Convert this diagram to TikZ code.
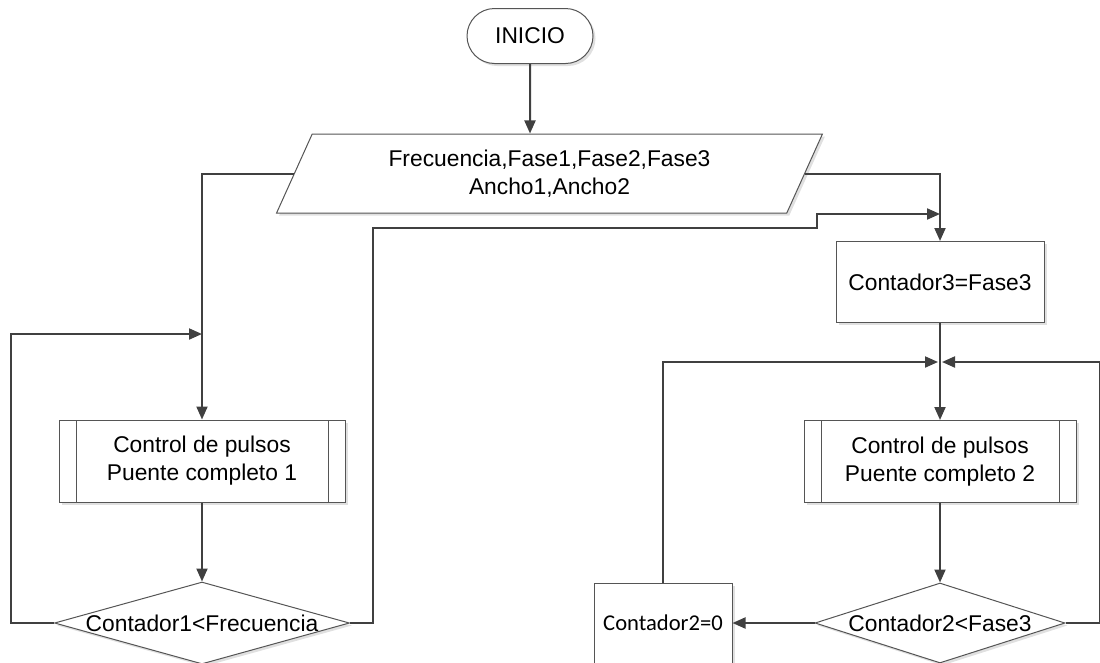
\documentclass[tikz,border=0pt]{standalone}
\usepackage{fontspec}
\setmainfont{Liberation Sans}
\newfontfamily\calibri{Carlito}
\usetikzlibrary{arrows.meta,shapes.geometric,shapes.misc,shadows}
\definecolor{linea}{HTML}{404040}
\definecolor{borde}{HTML}{555555}
\tikzset{
  caja/.style={draw=borde, line width=1pt, fill=white, inner sep=0pt, align=center,
    font=\fontsize{22.8}{28}\selectfont,
    drop shadow={shadow xshift=2.5pt, shadow yshift=-2.5pt, fill=black!12, opacity=1}},
  terminal/.style={caja, rounded rectangle, minimum width=126pt, minimum height=55pt},
  datos/.style={caja, trapezium, trapezium left angle=63, trapezium right angle=117,
    trapezium stretches=true, minimum width=549pt, minimum height=79pt},
  accion/.style={caja, rectangle},
  proceso/.style={caja, rectangle, minimum width=#1, minimum height=82pt,
    path picture={
      \draw[borde, line width=1pt]
        ([xshift=17pt]path picture bounding box.north west) -- ([xshift=17pt]path picture bounding box.south west)
        ([xshift=-17pt]path picture bounding box.north east) -- ([xshift=-17pt]path picture bounding box.south east);}},
  decision/.style={caja, diamond, aspect=3.6, inner xsep=-40pt, inner ysep=0pt},
  flecha/.style={draw=linea, line width=2pt, -{Triangle[length=13pt,width=11pt]}},
  linea/.style={draw=linea, line width=2pt}
}
\begin{document}
\begin{tikzpicture}[x=1pt, y=-1pt]
\useasboundingbox (0,0) rectangle (1100,662);
% bloques
\node[terminal] (inicio) at (530,36) {INICIO};
\node[datos] (param) at (549.5,173.5) {Frecuencia,Fase1,Fase2,Fase3\\Ancho1,Ancho2};
\node[proceso=286pt] (pulsos1) at (202,461) {Control de pulsos\\Puente completo 1};
\node[decision, minimum width=295pt, minimum height=82pt] (comp1) at (202,623) {Contador1<Frecuencia};
\node[accion, minimum width=208pt, minimum height=81pt] (cont3) at (940,282) {Contador3=Fase3};
\node[proceso=272pt] (pulsos2) at (940,461.5) {Control de pulsos\\Puente completo 2};
\node[decision, minimum width=250pt, minimum height=80pt] (comp2) at (940,623) {Contador2<Fase3};
\node[accion, minimum width=138pt, minimum height=80pt, font=\calibri\fontsize{22.6}{27}\selectfont] (cont2) at (663,623) {Contador2=0};
% puntos de union
\coordinate (union1) at (202,334);
\coordinate (union0) at (940,214);
\coordinate (union2) at (940,362);
% conexiones
\draw[flecha] (inicio) -- (inicio |- param.north);
\draw[flecha] (param.left side) -| (pulsos1.north);
\draw[flecha] (param.right side) -| (cont3.north);
\draw[flecha] (pulsos1) -- (comp1);
\draw[flecha] (comp1.west) -- ++(-43,0) |- (union1);
\draw[flecha] (comp1.east) -| (373,228) -| (817,214) -- (union0);
\draw[flecha] (cont3) -- (pulsos2);
\draw[flecha] (pulsos2) -- (comp2);
\draw[flecha] (comp2.west) -- (cont2.east);
\draw[flecha] (cont2.north) |- ([xshift=-2pt]union2);
\draw[flecha] (comp2.east) -- ++(34,0) |- ([xshift=2pt]union2);
\end{tikzpicture}
\end{document}
